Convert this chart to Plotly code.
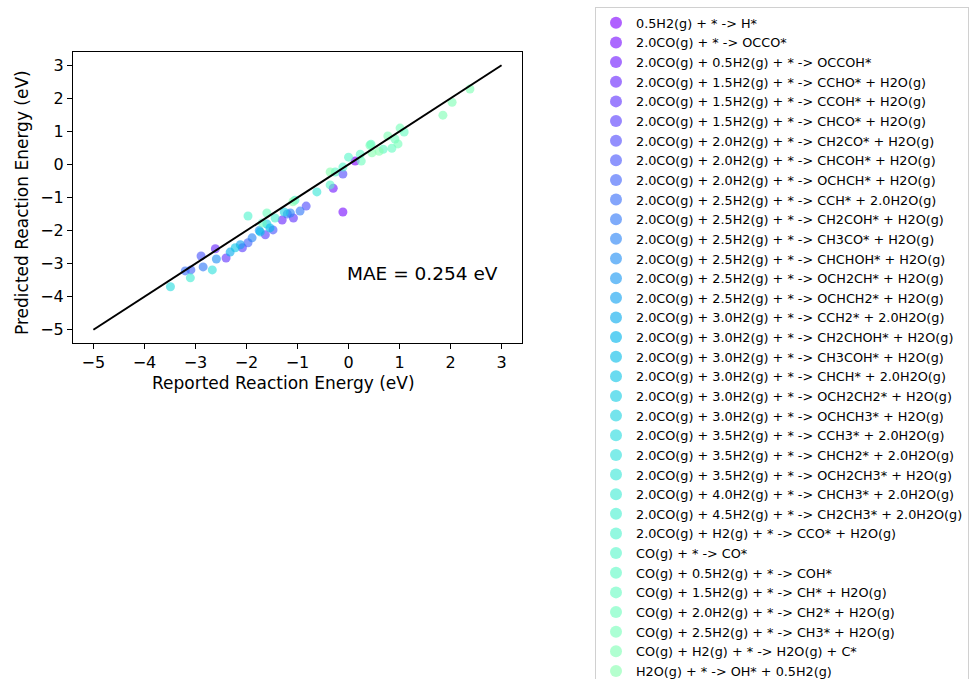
import math
import plotly.graph_objects as go

# Reaction labels (legend order)
reactions = [
    "0.5H2(g) + * -> H*",
    "2.0CO(g) + * -> OCCO*",
    "2.0CO(g) + 0.5H2(g) + * -> OCCOH*",
    "2.0CO(g) + 1.5H2(g) + * -> CCHO* + H2O(g)",
    "2.0CO(g) + 1.5H2(g) + * -> CCOH* + H2O(g)",
    "2.0CO(g) + 1.5H2(g) + * -> CHCO* + H2O(g)",
    "2.0CO(g) + 2.0H2(g) + * -> CH2CO* + H2O(g)",
    "2.0CO(g) + 2.0H2(g) + * -> CHCOH* + H2O(g)",
    "2.0CO(g) + 2.0H2(g) + * -> OCHCH* + H2O(g)",
    "2.0CO(g) + 2.5H2(g) + * -> CCH* + 2.0H2O(g)",
    "2.0CO(g) + 2.5H2(g) + * -> CH2COH* + H2O(g)",
    "2.0CO(g) + 2.5H2(g) + * -> CH3CO* + H2O(g)",
    "2.0CO(g) + 2.5H2(g) + * -> CHCHOH* + H2O(g)",
    "2.0CO(g) + 2.5H2(g) + * -> OCH2CH* + H2O(g)",
    "2.0CO(g) + 2.5H2(g) + * -> OCHCH2* + H2O(g)",
    "2.0CO(g) + 3.0H2(g) + * -> CCH2* + 2.0H2O(g)",
    "2.0CO(g) + 3.0H2(g) + * -> CH2CHOH* + H2O(g)",
    "2.0CO(g) + 3.0H2(g) + * -> CH3COH* + H2O(g)",
    "2.0CO(g) + 3.0H2(g) + * -> CHCH* + 2.0H2O(g)",
    "2.0CO(g) + 3.0H2(g) + * -> OCH2CH2* + H2O(g)",
    "2.0CO(g) + 3.0H2(g) + * -> OCHCH3* + H2O(g)",
    "2.0CO(g) + 3.5H2(g) + * -> CCH3* + 2.0H2O(g)",
    "2.0CO(g) + 3.5H2(g) + * -> CHCH2* + 2.0H2O(g)",
    "2.0CO(g) + 3.5H2(g) + * -> OCH2CH3* + H2O(g)",
    "2.0CO(g) + 4.0H2(g) + * -> CHCH3* + 2.0H2O(g)",
    "2.0CO(g) + 4.5H2(g) + * -> CH2CH3* + 2.0H2O(g)",
    "2.0CO(g) + H2(g) + * -> CCO* + H2O(g)",
    "CO(g) + * -> CO*",
    "CO(g) + 0.5H2(g) + * -> COH*",
    "CO(g) + 1.5H2(g) + * -> CH* + H2O(g)",
    "CO(g) + 2.0H2(g) + * -> CH2* + H2O(g)",
    "CO(g) + 2.5H2(g) + * -> CH3* + H2O(g)",
    "CO(g) + H2(g) + * -> H2O(g) + C*",
    "H2O(g) + * -> OH* + 0.5H2(g)",
]

# Reported (DFT) reaction energies, eV, one list per reaction
reported = [
    [0.13],
    [-0.11],
    [-0.30],
    [-2.61, -1.30],
    [-2.40, -1.08],
    [-2.08, -1.63],
    [-0.83, -0.11],
    [-2.89, -1.48],
    [-3.09, -1.97],
    [-3.20, -1.20],
    [-0.95, -2.85],
    [-1.14, -1.89],
    [-2.59],
    [-1.75],
    [-2.12],
    [-2.32],
    [-1.54],
    [-1.73],
    [-2.22],
    [-1.60],
    [-1.26],
    [-3.49],
    [-2.67],
    [-0.62],
    [-3.10],
    [-1.44],
    [-1.97, -1.05],
    [-0.36, -0.26, 0.00, -0.11],
    [0.44, 0.23, 0.68],
    [0.85, 1.09, -1.69],
    [0.91, 0.25, -1.60],
    [0.42, 1.01, 0.97],
    [1.85, 2.03, 2.38, 0.77],
    [-0.36, -1.09, 0.60, 0.46],
]

# Model-predicted reaction energies, eV, paired with the lists above
predicted = [
    [0.10],
    [-1.44],
    [-0.72],
    [-2.55, -1.68],
    [-2.83, -1.62],
    [-2.52, -2.13],
    [-1.26, -0.29],
    [-2.77, -1.98],
    [-3.19, -2.37],
    [-3.22, -1.50],
    [-1.41, -3.10],
    [-1.47, -2.22],
    [-2.86],
    [-2.00],
    [-2.43],
    [-2.65],
    [-1.92],
    [-2.04],
    [-2.52],
    [-1.80],
    [-1.44],
    [-3.70],
    [-3.19],
    [-0.83],
    [-3.43],
    [-1.62],
    [-1.56, -1.08],
    [-0.62, -0.23, 0.22, -0.08],
    [0.61, 0.31, 0.46],
    [0.49, 0.98, -1.77],
    [0.77, 0.10, -1.47],
    [0.58, 1.10, 0.62],
    [1.49, 1.88, 2.28, 0.86],
    [-0.23, -1.13, 0.40, 0.35],
]

parity_line = [-5, 3]
x_ticks = [-5, -4, -3, -2, -1, 0, 1, 2, 3]
y_ticks = [-5, -4, -3, -2, -1, 0, 1, 2, 3]
mae_text = "MAE = 0.254 eV"


def rainbow(v):
    # matplotlib "rainbow" colormap
    r = abs(2 * v - 0.5)
    g = math.sin(math.pi * v)
    b = math.cos(math.pi * v / 2)
    r, g, b = (max(0.0, min(1.0, c)) for c in (r, g, b))
    return f"rgb({round(r*255)},{round(g*255)},{round(b*255)})"


FONT = "DejaVu Sans"
fig = go.Figure()

for i, (name, xs, ys) in enumerate(zip(reactions, reported, predicted)):
    fig.add_trace(go.Scatter(
        x=xs, y=ys, mode="markers", name=name,
        marker=dict(size=9, color=rainbow(i / 64), opacity=0.62,
                    line=dict(width=0)),
    ))

fig.add_trace(go.Scatter(
    x=parity_line, y=parity_line, mode="lines", showlegend=False,
    line=dict(color="black", width=2), hoverinfo="skip",
))

fig.add_annotation(
    x=0, y=-3.68, xref="x", yref="y", text=mae_text, showarrow=False,
    xanchor="left", yanchor="bottom", xshift=-4,
    font=dict(family=FONT, size=18.5, color="black"),
)

# axis titles, placed in pixels relative to the figure
fig.add_annotation(
    x=(283 - 73) / 449, y=-(383 - 343) / 291, xref="paper", yref="paper",
    text="Reported Reaction Energy (eV)", showarrow=False,
    xanchor="center", yanchor="middle",
    font=dict(family=FONT, size=17, color="black"),
)
fig.add_annotation(
    x=-(73 - 22) / 449, y=(343 - 203) / 291, xref="paper", yref="paper",
    text="Predicted Reaction Energy (eV)", showarrow=False, textangle=-90,
    xanchor="center", yanchor="middle",
    font=dict(family=FONT, size=17, color="black"),
)

axis_common = dict(
    range=[-5.4, 3.4], showgrid=False, zeroline=False,
    showline=True, linecolor="black", linewidth=1, mirror=True,
    ticks="outside", ticklen=5, tickwidth=1, tickcolor="black",
    tickfont=dict(family=FONT, size=16, color="black"),
)

fig.update_xaxes(**axis_common, tickvals=x_ticks)
fig.update_yaxes(**axis_common, tickvals=y_ticks)

fig.update_layout(
    width=978, height=679,
    margin=dict(l=73, r=456, t=52, b=336, autoexpand=False),
    plot_bgcolor="white", paper_bgcolor="white",
    font=dict(family=FONT, color="black"),
    legend=dict(
        x=(595 - 73) / 449, y=(343 - 7) / 291, xanchor="left", yanchor="top",
        font=dict(family=FONT, size=12.8, color="black"),
        bordercolor="#d0d0d0", borderwidth=1, bgcolor="white",
        itemsizing="constant", maxheight=760,
    ),
)

fig.write_html("out.html")
